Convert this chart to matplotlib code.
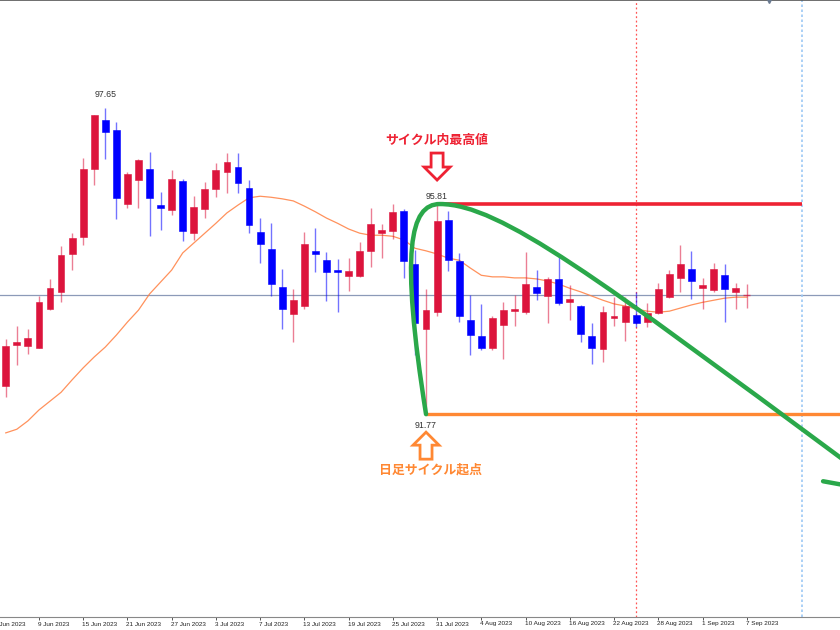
import numpy as np
import pandas as pd
import matplotlib
matplotlib.use('Agg')
import matplotlib.pyplot as plt
from matplotlib.patches import Rectangle, Polygon, PathPatch
from matplotlib.path import Path
from matplotlib.transforms import ScaledTranslation

# daily bars, 6 Jun 2023 .. 7 Sep 2023
dates = pd.bdate_range('2023-06-06', periods=68)

opens = [92.31, 93.10, 93.08, 93.05, 93.80, 94.12, 94.84, 95.18, 96.48, 97.43,
         97.23, 95.82, 96.27, 96.49, 95.79, 95.70, 96.25, 95.25, 95.72, 96.09,
         96.43, 96.52, 96.12, 95.27, 94.94, 94.21, 93.69, 93.84, 94.91, 94.73,
         94.53, 94.43, 94.43, 94.91, 95.26, 95.30, 95.68, 94.66, 93.40, 93.73,
         95.50, 94.71, 93.59, 93.28, 93.04, 93.48, 93.75, 93.73, 94.22, 94.04,
         94.36, 93.93, 93.85, 93.27, 93.02, 93.62, 93.55, 93.68, 93.54, 93.71,
         94.02, 94.39, 94.57, 94.21, 94.16, 94.44, 94.11, 94.07]
highs = [93.21, 93.47, 93.41, 94.05, 94.37, 95.01, 95.25, 96.69, 97.53, 97.65,
         97.38, 96.43, 96.68, 96.82, 96.05, 96.46, 96.30, 95.97, 96.24, 96.59,
         96.80, 96.80, 96.27, 95.55, 95.44, 94.57, 94.18, 95.28, 95.34, 94.89,
         94.75, 94.78, 95.08, 95.73, 95.42, 95.82, 95.72, 94.93, 94.17, 95.81,
         95.68, 94.86, 94.06, 93.88, 93.66, 93.93, 94.06, 94.89, 94.54, 94.40,
         94.83, 94.25, 93.87, 93.52, 93.85, 94.02, 94.03, 94.12, 93.91, 94.29,
         94.55, 95.02, 94.91, 94.38, 94.67, 94.66, 94.29, 94.27]
lows = [92.10, 92.72, 92.93, 93.04, 93.77, 93.93, 94.54, 95.02, 96.18, 96.67,
        95.52, 95.73, 95.73, 95.19, 95.32, 95.60, 95.10, 95.12, 95.55, 95.95,
        96.02, 96.02, 95.25, 94.68, 94.05, 93.41, 93.15, 93.80, 94.50, 93.95,
        93.73, 94.14, 94.41, 94.60, 94.78, 95.13, 94.39, 92.91, 91.77, 93.66,
        94.52, 93.55, 92.91, 93.00, 93.00, 92.84, 93.47, 93.69, 93.96, 93.52,
        93.87, 93.58, 93.15, 92.73, 92.78, 93.47, 93.18, 93.45, 93.44, 93.70,
        94.00, 94.12, 93.98, 93.80, 94.12, 93.54, 93.80, 93.82]
closes = [93.08, 93.15, 93.24, 93.93, 94.19, 94.83, 95.16, 96.49, 97.52, 97.19,
          95.93, 96.39, 96.65, 95.92, 95.73, 96.29, 95.30, 95.75, 96.09, 96.46,
          96.62, 96.21, 95.40, 95.04, 94.27, 93.79, 93.96, 95.05, 94.85, 94.50,
          94.51, 94.53, 94.91, 95.42, 95.32, 95.66, 94.72, 93.53, 93.77, 95.49,
          94.73, 93.66, 93.29, 93.04, 93.61, 93.78, 93.79, 94.27, 94.09, 94.37,
          93.91, 93.98, 93.32, 93.05, 93.74, 93.66, 93.84, 93.53, 93.71, 94.17,
          94.47, 94.65, 94.33, 94.24, 94.57, 94.17, 94.19, 94.07]
ma20 = [91.41, 91.48, 91.64, 91.85, 92.02, 92.19, 92.43, 92.66, 92.87, 93.06,
        93.29, 93.54, 93.77, 94.08, 94.31, 94.54, 94.87, 95.06, 95.25, 95.44,
        95.64, 95.79, 95.93, 95.96, 95.94, 95.91, 95.87, 95.77, 95.66, 95.54,
        95.44, 95.33, 95.25, 95.21, 95.21, 95.19, 95.12, 94.96, 94.91, 94.85,
        94.77, 94.73, 94.58, 94.44, 94.41, 94.41, 94.39, 94.39, 94.37, 94.33,
        94.27, 94.19, 94.12, 94.04, 93.96, 93.89, 93.85, 93.79, 93.75, 93.73,
        93.75, 93.81, 93.87, 93.92, 93.96, 94.00, 94.02, 94.02]

cycle_low_idx, cycle_low = 38, 91.77
cycle_high_idx, cycle_high = 39, 95.81
top_idx, top_price = 9, 97.65
vline_red_idx = 57
vline_blue_idx = 72
shift_idx = 69

UP = '#dc143c'
DOWN = '#0000ff'

fig = plt.figure(figsize=(8.4, 6.3), dpi=100)
ax = fig.add_axes([0, 13 / 630, 1, 617 / 630])
ax.set_xlim(-0.52, 75.43)
ax.set_ylim(87.87, 99.733)

x = np.arange(len(dates))

# current price line
ax.axhline(closes[-1], color='#8c9ab8', lw=0.9, zorder=1)

# moving average
ax.plot(x, ma20, color='#ff7f40', lw=0.9, alpha=0.85, zorder=2)

# candles
for i in x:
    o, h, l, c = opens[i], highs[i], lows[i], closes[i]
    col = UP if c >= o else DOWN
    ax.vlines(i, l, h, color=col, lw=1.0, alpha=0.55, zorder=3)
    if i == len(x) - 1 and abs(c - o) < 0.01:
        ax.hlines(c, i - 0.3, i + 0.3, color=col, lw=1.0, alpha=0.7, zorder=3)
        continue
    lo = min(o, c)
    ht = abs(c - o)
    if ht < 0.05:
        lo, ht = (o + c) / 2 - 0.025, 0.05
    ax.add_patch(Rectangle((i - 0.31, lo), 0.62, ht, facecolor=col,
                           edgecolor=col, lw=0.4, zorder=4))

# vertical markers
ax.axvline(vline_red_idx, color='#ff5555', lw=0.9, ls=(0, (1.5, 2)), zorder=1)
ax.axvline(vline_blue_idx, color='#9cc8f5', lw=1.2, ls=(0, (1.5, 1.5)), zorder=1)

# cycle lines
ax.hlines(cycle_high, cycle_high_idx, vline_blue_idx, color='#ee2233', lw=2.6, zorder=5)
ax.hlines(cycle_low, cycle_low_idx, 80, color='#ff8833', lw=2.4, zorder=5)

verts = [(cycle_low_idx, cycle_low), (35.64, 94.93), (36.55, 95.81), (39.26, 95.81),
         (44.68, 95.81), (53.73, 94.35), (75.88, 90.87)]
codes = [Path.MOVETO] + [Path.CURVE4] * 6
ax.add_patch(PathPatch(Path(verts, codes), fill=False, edgecolor='#2aa84a',
                       lw=3.2, capstyle='round', zorder=6))
ax.plot([73.9, 77.0], [90.48, 90.36], color='#2aa84a', lw=3.2,
        solid_capstyle='round', zorder=6)

# price labels
lab = dict(ha='center', va='center', fontsize=6.3, color='#333333',
           family='Liberation Sans', textcoords='offset pixels')
ax.annotate(f'{top_price:.2f}', (top_idx, top_price), xytext=(0, 14), **lab)
ax.annotate(f'{cycle_high:.2f}', (cycle_high_idx, cycle_high), xytext=(0, 8), **lab)
ax.annotate(f'{cycle_low:.2f}', (cycle_low_idx, cycle_low), xytext=(0, -11), **lab)


def hollow_arrow(xd, yd, dy_px, color, down=True):
    # outline arrow in pixel units, tip at (0, dy_px) from the anchor point
    pts = np.array([(0, 0), (-13, 13), (-6, 13), (-6, 27), (6, 27), (6, 13),
                    (13, 13)], dtype=float)
    if not down:
        pts[:, 1] *= -1
    pts[:, 1] += dy_px
    tr = fig.dpi_scale_trans + ScaledTranslation(xd, yd, ax.transData)
    ax.add_patch(Polygon(pts / 100.0, closed=True, facecolor='white',
                         edgecolor=color, lw=2.0, transform=tr, zorder=7,
                         joinstyle='miter'))


hollow_arrow(cycle_high_idx, cycle_high, 24, '#ee2233', down=True)
hollow_arrow(cycle_low_idx, cycle_low, -18, '#ff8833', down=False)

jp = dict(ha='center', va='center', fontsize=9.3, fontweight='bold',
          family=['Noto Sans CJK JP', 'DejaVu Sans'], textcoords='offset pixels')
ax.annotate('サイクル内最高値', (cycle_high_idx, cycle_high), xytext=(0, 64),
            color='#ee2233', **jp)
ax.annotate('日足サイクル起点', (cycle_low_idx, cycle_low), xytext=(4, -55),
            color='#ff8833', **jp)

# shift marker at the top
ax.plot([shift_idx], [99.733], marker='v', ms=4, color='#6a7a90', clip_on=False, zorder=8)

# axes styling
for side in ['left', 'right']:
    ax.spines[side].set_visible(False)
ax.spines['top'].set_color('#555555')
ax.spines['top'].set_linewidth(1.2)
ax.spines['bottom'].set_color('#888888')
ax.spines['bottom'].set_linewidth(0.8)
ax.set_yticks([])

tick_idx = list(range(-1, len(dates), 4))
ax.set_xticks([t for t in tick_idx if t >= 0])
ax.set_xticklabels([])
ax.tick_params(axis='x', direction='out', length=2.5, width=0.7, color='#555555')
all_days = pd.bdate_range('2023-06-05', periods=len(dates) + 1)
for t in tick_idx:
    d = all_days[t + 1]
    ax.annotate(f"{d.day} {d.strftime('%b %Y')}", (t, 0), xycoords=('data', 'axes fraction'),
                xytext=(-1, -7), textcoords='offset pixels', ha='left', va='center',
                fontsize=4.6, color='#222222', family='Liberation Sans', annotation_clip=False)

fig.savefig('out.png', dpi=100)
